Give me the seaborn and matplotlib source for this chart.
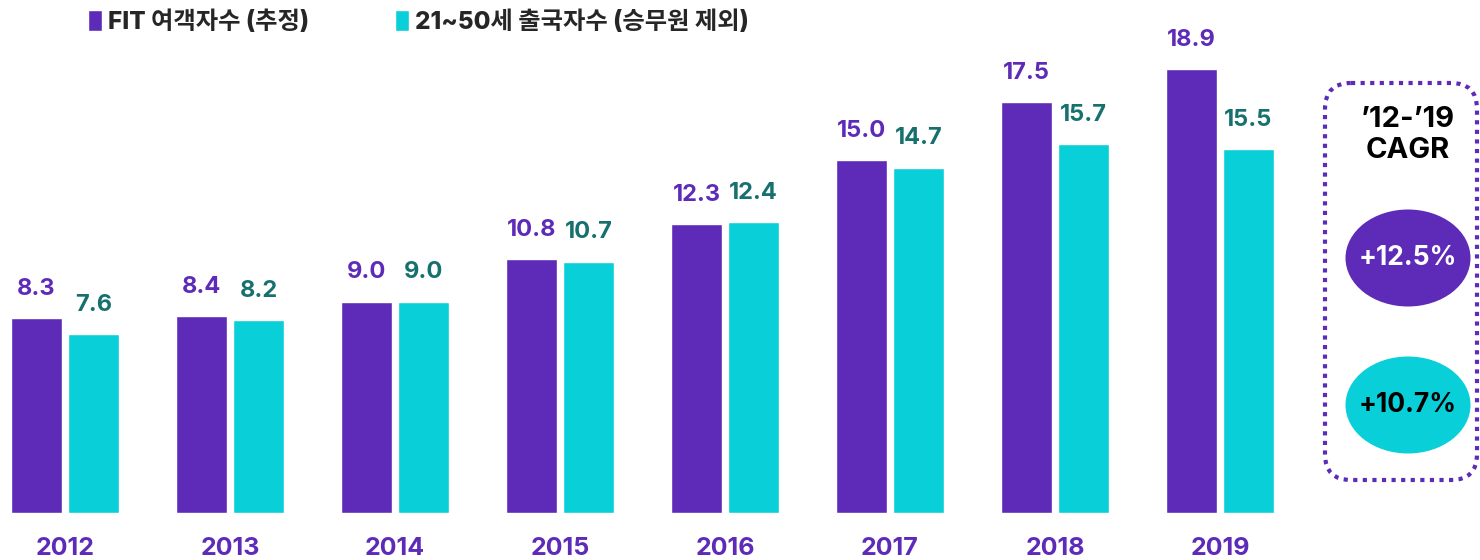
import matplotlib
matplotlib.use("Agg")
import matplotlib.pyplot as plt
from matplotlib.patches import FancyBboxPatch, Ellipse
import seaborn as sns
import pandas as pd

years = ["2012", "2013", "2014", "2015", "2016", "2017", "2018", "2019"]
fit_travelers = [8.3, 8.4, 9.0, 10.8, 12.3, 15.0, 17.5, 18.9]
outbound_21_50 = [7.6, 8.2, 9.0, 10.7, 12.4, 14.7, 15.7, 15.5]
series_names = ["FIT 여객자수 (추정)", "21~50세 출국자수 (승무원 제외)"]
cagr_title = "’12-’19\nCAGR"
cagr_labels = ["+12.5%", "+10.7%"]

PURPLE = "#5D2BB7"
TEAL = "#08CFD8"
TEAL_TEXT = "#16706E"

sns.set_theme(style="white")
plt.rcParams["font.family"] = ["Inter", "Noto Sans CJK KR", "DejaVu Sans"]

df = pd.DataFrame({
    "year": years * 2,
    "value": fit_travelers + outbound_21_50,
    "series": [series_names[0]] * len(years) + [series_names[1]] * len(years),
})

W, H = 1480, 560
fig = plt.figure(figsize=(W / 100, H / 100), dpi=100)

# main axes in pixel-based placement
ax_left, ax_right = 0, 1300
ax_bottom_px, ax_top_px = 513, 30
ax = fig.add_axes([ax_left / W, (H - ax_bottom_px) / H,
                   (ax_right - ax_left) / W, (ax_bottom_px - ax_top_px) / H])

sns.barplot(data=df, x="year", y="value", hue="series",
            palette=[PURPLE, TEAL], width=0.69, gap=0.09,
            saturation=1, ax=ax, legend=True)

step = 165
ax.set_xlim(-65 / step, -65 / step + (ax_right - ax_left) / step)
ax.set_ylim(0, (ax_bottom_px - ax_top_px) / 23.5)

for cont, col in zip(ax.containers, [PURPLE, TEAL_TEXT]):
    ax.bar_label(cont, fmt="%.1f", padding=13, color=col,
                 fontsize=17, fontweight="bold")

ax.set_xlabel("")
ax.set_ylabel("")
ax.set_yticks([])
ax.tick_params(axis="x", length=0, pad=17)
for lbl in ax.get_xticklabels():
    lbl.set_color(PURPLE)
    lbl.set_fontweight("bold")
    lbl.set_fontsize(18)
sns.despine(ax=ax, left=True, bottom=True)

handles, labels = ax.get_legend_handles_labels()
ax.get_legend().remove()
fig.legend(handles, labels, ncol=2, frameon=False,
           loc="center left", bbox_to_anchor=(78 / W, (H - 22) / H),
           handlelength=0.6, handleheight=0.95, handletextpad=0.25,
           columnspacing=3.5, borderaxespad=0,
           prop={"weight": "heavy", "size": 17.5})

# overlay in pixel coordinates for the CAGR panel
ov = fig.add_axes([0, 0, 1, 1])
ov.set_xlim(0, W)
ov.set_ylim(H, 0)
ov.axis("off")
ov.patch.set_alpha(0)

box = FancyBboxPatch((1325, 83), 152, 397,
                     boxstyle="round,pad=0,rounding_size=26",
                     fill=False, edgecolor=PURPLE, linewidth=3,
                     linestyle=(0, (1, 1.3)))
ov.add_patch(box)
ov.text(1408, 135, cagr_title, ha="center", va="center",
        fontsize=21, fontweight="bold", color="black", linespacing=1.2)

for (cy, fc, tc), txt in zip([(258, PURPLE, "white"), (405, TEAL, "black")], cagr_labels):
    ov.add_patch(Ellipse((1408, cy), 125, 97, facecolor=fc, edgecolor="none"))
    ov.text(1408, cy, txt, ha="center", va="center", fontsize=19,
            fontweight="bold", color=tc)

fig.savefig("out.png", dpi=100)
